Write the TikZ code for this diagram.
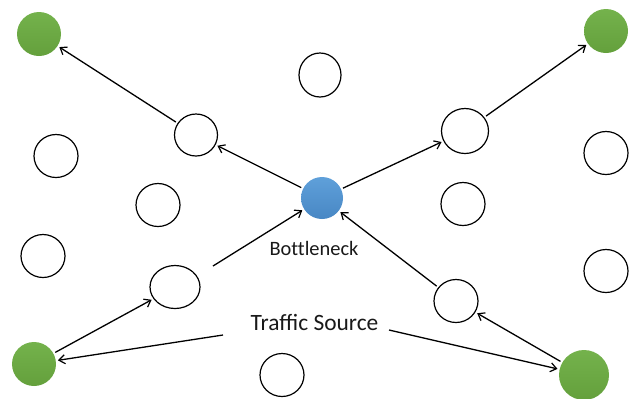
\documentclass[tikz,border=0pt]{standalone}
\usepackage{fontspec}
\setmainfont{Carlito}
\usetikzlibrary{arrows.meta,shapes.geometric}
\definecolor{gfill}{RGB}{116,178,76}
\definecolor{gdark}{RGB}{100,160,60}
\definecolor{bfill}{RGB}{95,160,218}
\definecolor{bdark}{RGB}{72,135,196}
\tikzset{
  x=1bp, y=-1bp,
  plain/.style={ellipse, draw=black, line width=1.2bp, fill=white, inner sep=0pt, minimum width=44bp, minimum height=43bp},
  src/.style={circle, inner sep=0pt, minimum size=44bp, top color=gfill, bottom color=gdark, draw=none},
  neck/.style={circle, inner sep=0pt, minimum size=42bp, top color=bfill, bottom color=bdark, draw=none},
  flow/.style={line width=1.3bp, -{Straight Barb[length=6bp,width=9bp,line width=1.2bp]}, shorten >=2bp, shorten <=2bp},
  lbl/.style={inner sep=0pt, text=black!90}
}
\begin{document}
\begin{tikzpicture}
\useasboundingbox (0,0) rectangle (633,398);
% green terminal nodes
\node[src] (gTL) at (39,34) {};
\node[src] (gTR) at (606,31) {};
\node[src] (gBL) at (34,364) {};
\node[src, minimum size=50bp] (gBR) at (584,375) {};
% bottleneck
\node[neck] (neck) at (322,198) {};
% white nodes
\node[plain, minimum width=43bp, minimum height=42bp] (A) at (196,135) {};
\node[plain, minimum width=47bp, minimum height=45bp] (B) at (465,131) {};
\node[plain, minimum width=50bp, minimum height=43bp] (C) at (175,287) {};
\node[plain] (D) at (456,301) {};
\node[plain, minimum width=42bp, minimum height=44bp] (top) at (320,75) {};
\node[plain] (L1) at (56,156) {};
\node[plain] (L2) at (158,205) {};
\node[plain] (L3) at (43,256) {};
\node[plain] (R1) at (606,153) {};
\node[plain] (R2) at (463,204) {};
\node[plain] (R3) at (606,271) {};
\node[plain] (bot) at (282,375) {};
% labels
\node[lbl, font=\fontsize{20.5}{24}\selectfont\addfontfeature{Ligatures=NoCommon}] (bn) at (314,248) {Bottleneck};
\node[lbl, font=\fontsize{23.5}{27}\selectfont] (ts) at (314.5,322) {Traffic Source};
% free ends
\coordinate (c5) at (213,266);
\coordinate (sL) at (223,335);
\coordinate (sR) at (389,330);
% connectors
\draw[flow] (neck) -- (A);
\draw[flow] (A) -- (gTL);
\draw[flow] (neck) -- (B);
\draw[flow] (B) -- (gTR);
\draw[flow, shorten <=0bp] (c5) -- (neck);
\draw[flow] (gBL) -- (C);
\draw[flow, shorten <=0bp] (sL) -- (gBL);
\draw[flow, shorten <=0bp] (sR) -- (gBR);
\draw[flow] (gBR) -- (D);
\draw[flow] (D) -- (neck);
\end{tikzpicture}
\end{document}
